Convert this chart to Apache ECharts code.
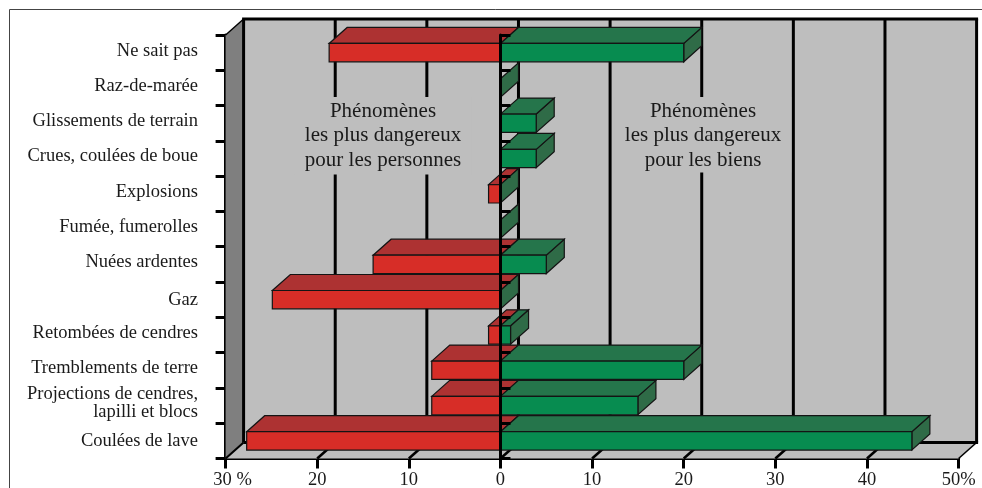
<!DOCTYPE html>
<html>
<head>
<meta charset="utf-8">
<style>html,body{margin:0;padding:0;background:#fff}#c{width:982px;height:488px}</style>
<script src="https://cdn.jsdelivr.net/npm/echarts@6/dist/echarts.min.js"></script>
</head>
<body>
<div id="c"></div>
<script>
const categories = ["Ne sait pas","Raz-de-marée","Glissements de terrain","Crues, coulées de boue","Explosions","Fumée, fumerolles","Nuées ardentes","Gaz","Retombées de cendres","Tremblements de terre","Projections de cendres,\nlapilli et blocs","Coulées de lave"];
const personnes = [18.7,0,0,0,1.3,0,13.9,24.9,1.3,7.5,7.5,27.7];
const biens = [20,0,3.9,3.9,0,0,5,0,1.1,20,15,44.9];
const lowLabels = ["Gaz","Coulées de lave"];
const tickValues = [-30,-20,-10,0,10,20,30,40,50];
const tickLabels = {"-30":"30 %","-20":"20","-10":"10","0":"0","10":"10","20":"20","30":"30","40":"40","50":"50%"};
const DX = 18, DY = 16, BAR = 0.52;
const FONT = '"Liberation Serif","Times New Roman",serif';
const edge = {stroke:'#141414',lineWidth:1.2};

function poly(points, fill, st){
  return {type:'polygon',shape:{points},style:Object.assign({fill},st||edge)};
}
function line(x1,y1,x2,y2,w){
  return {type:'line',shape:{x1,y1,x2,y2},style:{stroke:'#000',lineWidth:w,lineCap:'butt'}};
}
function renderWalls(params, api){
  const c = params.coordSys, L=c.x, R=c.x+c.width, T=c.y, B=c.y+c.height;
  const none = {stroke:null};
  const kids = [
    poly([[L+DX,T-DY],[R+DX,T-DY],[R+DX,B-DY],[L+DX,B-DY]],'#bebebe',none),
    poly([[L,B],[R,B],[R+DX,B-DY],[L+DX,B-DY]],'#bebebe',none),
    poly([[L,T],[L+DX,T-DY],[L+DX,B-DY],[L,B]],'#7f7f7f',none)
  ];
  tickValues.forEach(v=>{
    const x = api.coord([v,0])[0];
    kids.push(line(x+DX,T-DY,x+DX,B-DY,3));
    if(v>-30) kids.push(line(x,B,x+DX,B-DY,v===50?1.6:2.6));
  });
  kids.push(line(L,T,L+DX,T-DY,1.4));
  kids.push(line(L,B,L+DX,B-DY,2));
  kids.push(line(L+DX-1.5,T-DY,R+DX+1.5,T-DY,3));
  kids.push(line(L+DX,B-DY,R+DX+1.5,B-DY,3));
  return {type:'group',children:kids};
}
function renderRed(params, api){
  const v = api.value(0), idx = api.value(1);
  if(!v) return null;
  const p = api.coord([-v,idx]), o = api.coord([0,idx]);
  const h = api.size([0,1])[1]*BAR, t = p[1]-h/2, b = p[1]+h/2;
  return {type:'group',children:[
    poly([[p[0],t],[o[0],t],[o[0]+DX,t-DY],[p[0]+DX,t-DY]],'#ad3232'),
    poly([[p[0],t],[o[0],t],[o[0],b],[p[0],b]],'#d72d27')
  ]};
}
function renderGreen(params, api){
  const v = api.value(0), idx = api.value(1);
  const p = api.coord([v,idx]), o = api.coord([0,idx]);
  const h = api.size([0,1])[1]*BAR, t = p[1]-h/2, b = p[1]+h/2;
  const kids = [poly([[p[0],t],[p[0]+DX,t-DY],[p[0]+DX,b-DY],[p[0],b]],'#2f6b47')];
  if(v){
    kids.push(poly([[o[0],t],[p[0],t],[p[0]+DX,t-DY],[o[0]+DX,t-DY]],'#25754b'));
    kids.push(poly([[o[0],t],[p[0],t],[p[0],b],[o[0],b]],'#078c50'));
  }
  return {type:'group',children:kids};
}
function note(txt,x,y,pad){
  return {type:'text',x,y,z:50,style:{text:txt,font:'21px '+FONT,fill:'#1a1a1a',align:'center',verticalAlign:'top',
    lineHeight:24.5,backgroundColor:'#bebebe',padding:pad}};
}
const chart = echarts.init(document.getElementById('c'),null,{renderer:'canvas'});
chart.setOption({
  animation:false,
  backgroundColor:'#fff',
  grid:{left:225.6,top:35,width:733,height:423.5,containLabel:false,outerBoundsMode:'none'},
  xAxis:{type:'value',min:-30,max:50,interval:10,splitLine:{show:false},position:'bottom',
    axisLine:{show:true,onZero:false,lineStyle:{color:'#000',width:3}},
    axisTick:{show:true,length:10,lineStyle:{color:'#000',width:3}},
    axisLabel:{margin:12,color:'#1a1a1a',fontFamily:FONT,fontSize:18.5,hideOverlap:false,
      formatter:v=>v===-30?'{m|'+tickLabels[v]+'}':tickLabels[v],
      rich:{m:{padding:[0,0,0,14],fontFamily:FONT,fontSize:18.5,color:'#1a1a1a'}}}},
  yAxis:[
    {type:'category',data:categories,inverse:true,position:'left',
     axisLine:{show:true,onZero:false,lineStyle:{color:'#000',width:3}},
     axisTick:{show:true,length:10,lineStyle:{color:'#000',width:3}},
     splitLine:{show:false},
     axisLabel:{margin:27.6,color:'#1a1a1a',fontFamily:FONT,fontSize:18.5,lineHeight:18,align:'right',interval:0,padding:[0,0,4,0],
       formatter:v=>lowLabels.includes(v)?'{low|'+v+'}':v,
       rich:{low:{padding:[5,0,0,0],fontFamily:FONT,fontSize:18.5,lineHeight:18,color:'#1a1a1a'}}}},
    {type:'category',data:categories,inverse:true,z:20,
     axisLine:{show:true,onZero:true,lineStyle:{color:'#000',width:3}},
     axisTick:{show:true,length:10,lineStyle:{color:'#000',width:3}},
     axisLabel:{show:false},splitLine:{show:false}}
  ],
  series:[
    {type:'custom',name:'Parois',renderItem:renderWalls,data:[[0,0]],z:1,silent:true},
    {type:'custom',name:'Personnes',renderItem:renderRed,z:3,silent:true,
     data:personnes.map((v,i)=>[v,i]),encode:{x:0,y:1}},
    {type:'custom',name:'Biens',renderItem:renderGreen,z:4,silent:true,
     data:biens.map((v,i)=>[v,i]),encode:{x:0,y:1}}
  ],
  graphic:{elements:[
    {type:'polyline',z:60,shape:{points:[[9.5,488],[9.5,9.5],[982,9.5]]},style:{stroke:'#444',lineWidth:1,fill:null}},
    note('Phénomènes\nles plus dangereux\npour les personnes',383,97,[2,10,2,10]),
    note('Phénomènes\nles plus dangereux\npour les biens',703,97,[2,10,0,10])
  ]}
});
</script>
</body>
</html>
